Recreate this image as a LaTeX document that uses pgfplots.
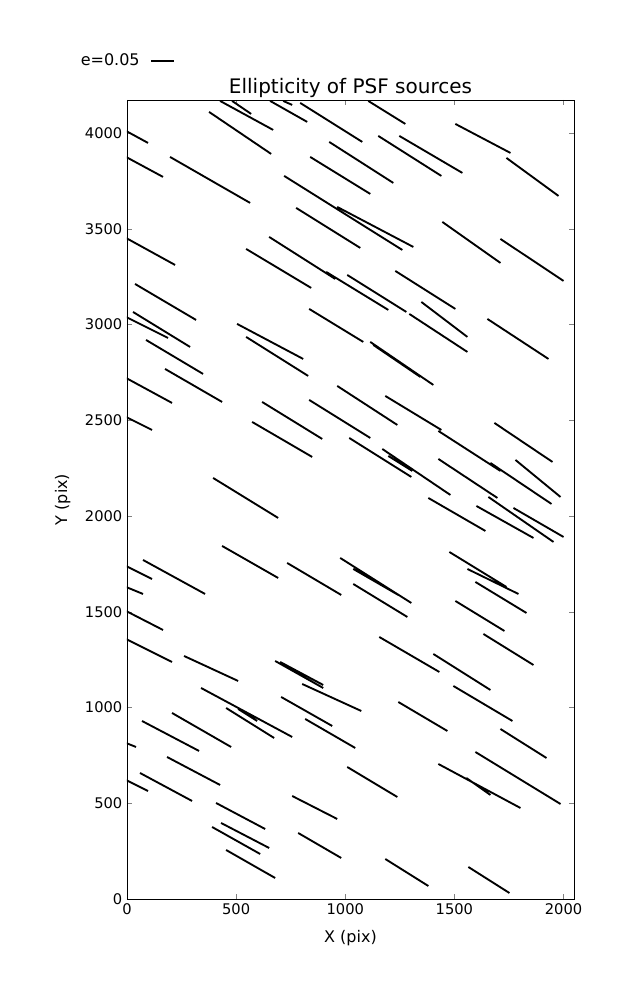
\documentclass[border=0pt]{standalone}
\usepackage{fontspec}
\setmainfont{DejaVu Sans}
\usepackage{pgfplots}
\pgfplotsset{compat=1.18}
\begin{document}
\begin{tikzpicture}
\begin{axis}[
  scale only axis,
  width=335.25pt, height=599.25pt,
  xmin=0, xmax=2048, ymin=0, ymax=4172,
  xtick={0,500,1000,1500,2000},
  ytick={0,500,1000,1500,2000,2500,3000,3500,4000},
  /pgf/number format/set thousands separator={},
  /pgf/number format/assume math mode=true,
  tick label style={font=\fontsize{11}{13}\selectfont},
  label style={font=\fontsize{12}{14}\selectfont},
  title style={font=\fontsize{15}{17}\selectfont, yshift=-8pt},
  title={Ellipticity of PSF sources},
  xlabel={X (pix)}, ylabel={Y (pix)},
  xlabel style={yshift=-5pt},
  ylabel style={yshift=4pt},
  major tick length=3.75pt,
  axis line style={line width=0.6pt},
  unbounded coords=jump,
  legend plot pos=right,
  legend image post style={line width=1.4pt},
  legend style={at={(axis description cs:-0.110,1.049)}, anchor=west, draw=none, fill=none,
    font=\fontsize{12}{14}\selectfont, inner sep=0pt,
    /tikz/every odd column/.append style={column sep=6pt}},
]
\addplot[black, line width=1.4pt] coordinates {
(426.6,4167) (669.7,4015.7) (nan,nan)
(481.6,4167) (568.8,4099.3) (nan,nan)
(655.9,4167) (825.7,4057.5) (nan,nan)
(715.6,4167) (756.9,4146.3) (nan,nan)
(793.6,4156.7) (1078,3953) (nan,nan)
(1105.5,4167) (1275.2,4047) (nan,nan)
(1151.3,3984.4) (1440.3,3775.5) (nan,nan)
(1247.7,3984.4) (1536.6,3791.2) (nan,nan)
(1504.5,4047) (1756.8,3895.6) (nan,nan)
(1738.5,3869.5) (1977,3671.1) (nan,nan)
(926.6,3953) (1220.1,3739) (nan,nan)
(839.4,3874.7) (1114.6,3681.5) (nan,nan)
(720.2,3775.5) (1261.4,3389) (nan,nan)
(963.3,3613.6) (1311.9,3404.7) (nan,nan)
(775.2,3608.4) (1068.8,3399.5) (nan,nan)
(376.1,4109.7) (660.5,3890.4) (nan,nan)
(-4.6,4010.5) (96.3,3947.8) (nan,nan)
(-4.6,3874.7) (165.1,3770.3) (nan,nan)
(197.2,3874.7) (564.2,3634.5) (nan,nan)
(-4.6,3451.7) (220.2,3310.7) (nan,nan)
(36.7,3211.5) (316.5,3023.5) (nan,nan)
(545.9,3394.3) (844,3190.6) (nan,nan)
(651.4,3457) (954.1,3237.6) (nan,nan)
(912.8,3274.2) (1197.2,3075.8) (nan,nan)
(1009.1,3258.5) (1279.8,3065.3) (nan,nan)
(1229.3,3279.4) (1504.5,3081) (nan,nan)
(1348.6,3117.5) (1559.6,2934.8) (nan,nan)
(1293.5,3054.9) (1559.6,2856.4) (nan,nan)
(1651.3,3028.8) (1931.1,2819.9) (nan,nan)
(1444.9,3535.3) (1711,3321.2) (nan,nan)
(1711,3446.5) (2000,3227.2) (nan,nan)
(834.8,3081) (1082.5,2908.7) (nan,nan)
(1114.6,2908.7) (1403.6,2684.1) (nan,nan)
(1128.4,2893) (1344,2725.9) (nan,nan)
(963.3,2678.9) (1238.5,2475.2) (nan,nan)
(1183.4,2626.7) (1440.3,2449.1) (nan,nan)
(834.8,2605.8) (1114.6,2407.3) (nan,nan)
(1683.4,2485.7) (1949.5,2282) (nan,nan)
(1426.6,2443.9) (1711,2235) (nan,nan)
(1665.1,2276.8) (1944.9,2062.7) (nan,nan)
(1426.6,2297.7) (1697.2,2094) (nan,nan)
(1779.8,2292.5) (1986.2,2099.2) (nan,nan)
(1169.7,2349.9) (1481.6,2109.7) (nan,nan)
(1197.2,2313.3) (1307.3,2235) (nan,nan)
(1018.3,2407.3) (1302.7,2203.7) (nan,nan)
(27.5,3065.3) (289,2882.5) (nan,nan)
(-4.6,3039.2) (188.1,2929.5) (nan,nan)
(87.2,2919.1) (348.6,2741.6) (nan,nan)
(174.3,2767.7) (435.8,2595.3) (nan,nan)
(-4.6,2720.7) (206.4,2590.1) (nan,nan)
(-4.6,2517) (114.7,2449.1) (nan,nan)
(504.6,3002.7) (807.3,2819.9) (nan,nan)
(545.9,2934.8) (830.2,2731.1) (nan,nan)
(619.2,2595.3) (894.5,2402.1) (nan,nan)
(573.4,2490.9) (848.6,2308.1) (nan,nan)
(394.5,2198.5) (692.6,1989.6) (nan,nan)
(435.8,1843.4) (692.6,1676.3) (nan,nan)
(733.9,1754.6) (981.6,1587.5) (nan,nan)
(977,1780.7) (1302.7,1545.7) (nan,nan)
(1036.7,1723.3) (1243.1,1587.5) (nan,nan)
(-4.6,1738.9) (114.7,1671) (nan,nan)
(73.4,1770.3) (357.8,1592.7) (nan,nan)
(-4.6,1629.3) (73.4,1592.7) (nan,nan)
(-4.6,1503.9) (165.1,1404.7) (nan,nan)
(-4.6,1357.7) (206.4,1237.6) (nan,nan)
(261.5,1268.9) (509.2,1138.4) (nan,nan)
(678.9,1242.8) (899.1,1101.8) (nan,nan)
(701.8,1237.6) (899.1,1117.5) (nan,nan)
(802.7,1122.7) (1073.4,981.7) (nan,nan)
(339.4,1101.8) (756.9,846) (nan,nan)
(454.1,997.4) (674.3,840.7) (nan,nan)
(509.2,992.2) (596.3,929.5) (nan,nan)
(706.4,1054.8) (940.3,903.4) (nan,nan)
(816.5,940) (1045.8,788.5) (nan,nan)
(206.4,971.3) (477,793.7) (nan,nan)
(68.8,929.5) (330.3,772.9) (nan,nan)
(-4.6,814.6) (41.3,793.7) (nan,nan)
(183.5,741.5) (426.6,595.3) (nan,nan)
(59.6,658) (298.2,511.8) (nan,nan)
(-4.6,621.4) (96.3,564) (nan,nan)
(408.2,501.3) (633,365.5) (nan,nan)
(431.2,396.9) (651.4,266.3) (nan,nan)
(389.9,376) (610.1,235) (nan,nan)
(454.1,255.9) (678.9,109.7) (nan,nan)
(756.9,537.9) (963.3,417.8) (nan,nan)
(784.4,344.7) (981.6,214.1) (nan,nan)
(1009.1,689.3) (1238.5,532.6) (nan,nan)
(1243.1,1028.7) (1467.8,877.3) (nan,nan)
(1495.4,1112.3) (1766,929.5) (nan,nan)
(1711,887.7) (1922,736.3) (nan,nan)
(1596.3,767.6) (1986.2,496.1) (nan,nan)
(1426.6,705) (1802.7,475.2) (nan,nan)
(1555,631.9) (1665.1,543.1) (nan,nan)
(1183.4,208.9) (1380.7,67.9) (nan,nan)
(1564.2,167.1) (1752.2,31.3) (nan,nan)
(1380.7,2094) (1642.1,1921.7) (nan,nan)
(1600.9,2052.2) (1862.3,1885.1) (nan,nan)
(1655.9,2099.2) (1954.1,1864.3) (nan,nan)
(1770.6,2041.8) (2000,1890.4) (nan,nan)
(1477,1812) (1738.5,1629.3) (nan,nan)
(1559.6,1723.3) (1793.5,1592.7) (nan,nan)
(1596.3,1655.4) (1830.2,1493.5) (nan,nan)
(1504.5,1556.2) (1729.3,1399.5) (nan,nan)
(1633,1383.8) (1862.3,1221.9) (nan,nan)
(1155.9,1368.2) (1431.1,1185.4) (nan,nan)
(1403.6,1279.4) (1665.1,1091.4) (nan,nan)
(1036.7,1644.9) (1284.4,1472.6)
};
\addlegendentry{e=0.05}
\end{axis}
\path (current axis.south west) ++(-95.25pt,-75.75pt) coordinate (bbA);
\path (current axis.north east) ++(47.25pt,75pt) coordinate (bbB);
\useasboundingbox (bbA) rectangle (bbB);
\end{tikzpicture}
\end{document}
